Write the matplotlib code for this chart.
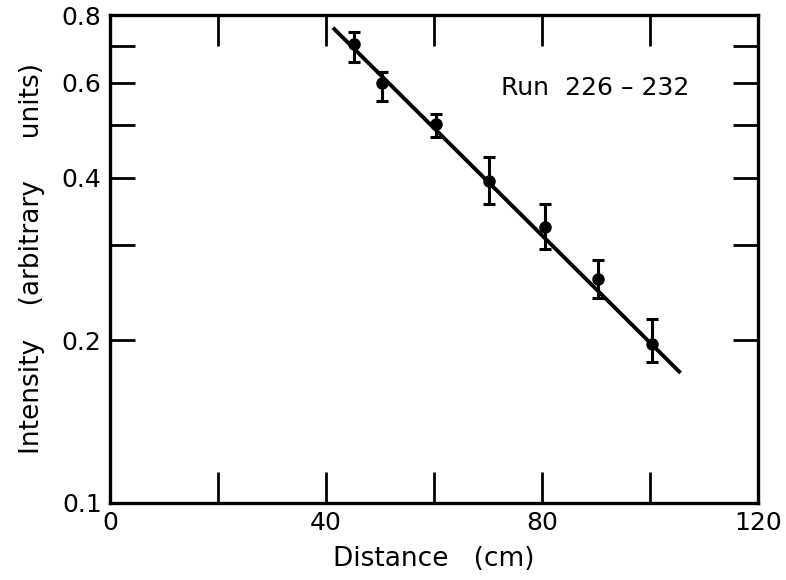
import numpy as np
import matplotlib
matplotlib.use("Agg")
import matplotlib.pyplot as plt
from matplotlib.ticker import FixedLocator, NullFormatter

# measured points (Run 226-232)
distance = [45.2, 50.4, 60.4, 70.2, 80.5, 90.4, 100.4]
intensity = [0.708, 0.600, 0.503, 0.395, 0.324, 0.260, 0.197]
err_hi = [0.745, 0.628, 0.525, 0.437, 0.358, 0.282, 0.219]
err_lo = [0.656, 0.555, 0.476, 0.358, 0.295, 0.239, 0.182]

# straight-line fit, end points
fit_x = [41.3, 105.7]
fit_y = [0.758, 0.174]

y_major = [0.1, 0.2, 0.4, 0.6, 0.8]
y_labels = ["0.1", "0.2", "0.4", "0.6", "0.8"]
y_minor = [0.3, 0.5, 0.7]
x_major = [0, 40, 80, 120]
x_minor = [20, 60, 100]

plt.rcParams["font.family"] = "DejaVu Sans"

fig = plt.figure(figsize=(7.86, 5.80), dpi=100)
ax = fig.add_axes([0.140, 0.133, 0.824, 0.841])

intensity = np.array(intensity)
yerr = [intensity - np.array(err_lo), np.array(err_hi) - intensity]

ax.plot(fit_x, fit_y, color="black", lw=2.8, solid_capstyle="butt")
ax.errorbar(distance, intensity, yerr=yerr, fmt="o", color="black",
            ms=8, elinewidth=2.2, capsize=4.5, capthick=2.2)

ax.set_yscale("log")
ax.set_xlim(0, 120)
ax.set_ylim(0.1, 0.8)

ax.yaxis.set_major_locator(FixedLocator(y_major))
ax.set_yticklabels(y_labels)
ax.yaxis.set_minor_locator(FixedLocator(y_minor))
ax.yaxis.set_minor_formatter(NullFormatter())
ax.xaxis.set_major_locator(FixedLocator(x_major))
ax.xaxis.set_minor_locator(FixedLocator(x_minor))

ax.tick_params(which="both", direction="in", top=True, right=True,
               width=2.0, color="black", labelsize=18, pad=6)
ax.tick_params(axis="y", which="both", length=18)
ax.tick_params(axis="x", which="both", length=22)

for s in ax.spines.values():
    s.set_linewidth(2.4)

ax.set_xlabel("Distance   (cm)", fontsize=19, labelpad=8)
ax.set_ylabel("Intensity    (arbitrary     units)", fontsize=19, labelpad=12)

ax.text(72.5, 0.587, "Run  226 \u2013 232", fontsize=18, va="center", ha="left")

fig.savefig("out.png", dpi=100)
